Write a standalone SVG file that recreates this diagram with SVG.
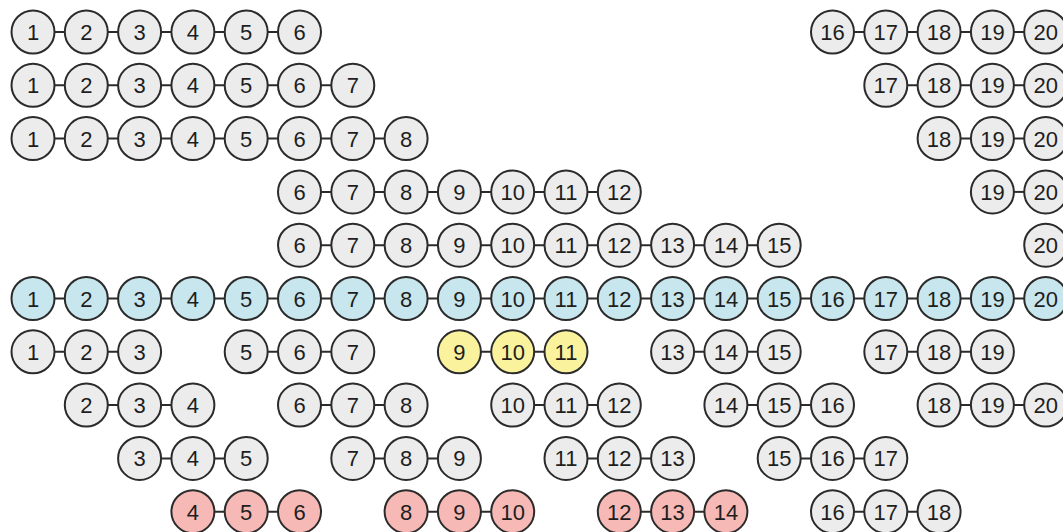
<svg xmlns="http://www.w3.org/2000/svg" width="1063" height="532" viewBox="0 0 1063 532">
<style>
circle{stroke:#2b2b2b;stroke-width:2}
text{font-family:"Liberation Sans",Arial,sans-serif;font-size:22px;fill:#1e1e1e;text-anchor:middle}
.g circle{fill:#ececec}
.b circle{fill:#c8e6ed}
.y circle{fill:#fbf29e}
.r circle{fill:#f6b9b6}
#conn path{stroke:#2b2b2b;stroke-width:2;fill:none}
</style>
<rect width="1063" height="532" fill="#fff"/>
<g id="conn">
<path d="M54.5 32h10.3M107.8 32h10.3M161.1 32h10.3M214.4 32h10.3M267.7 32h10.3"/>
<path d="M854 32h10.3M907.3 32h10.3M960.6 32h10.3M1013.9 32h10.3"/>
<path d="M54.5 85.3h10.3M107.8 85.3h10.3M161.1 85.3h10.3M214.4 85.3h10.3M267.7 85.3h10.3M321 85.3h10.3"/>
<path d="M907.3 85.3h10.3M960.6 85.3h10.3M1013.9 85.3h10.3"/>
<path d="M54.5 138.6h10.3M107.8 138.6h10.3M161.1 138.6h10.3M214.4 138.6h10.3M267.7 138.6h10.3M321 138.6h10.3M374.3 138.6h10.3"/>
<path d="M960.6 138.6h10.3M1013.9 138.6h10.3"/>
<path d="M321 191.9h10.3M374.3 191.9h10.3M427.6 191.9h10.3M480.9 191.9h10.3M534.2 191.9h10.3M587.5 191.9h10.3"/>
<path d="M1013.9 191.9h10.3"/>
<path d="M321 245.2h10.3M374.3 245.2h10.3M427.6 245.2h10.3M480.9 245.2h10.3M534.2 245.2h10.3M587.5 245.2h10.3M640.8 245.2h10.3M694.1 245.2h10.3M747.4 245.2h10.3"/>
<path d="M54.5 298.5h10.3M107.8 298.5h10.3M161.1 298.5h10.3M214.4 298.5h10.3M267.7 298.5h10.3M321 298.5h10.3M374.3 298.5h10.3M427.6 298.5h10.3M480.9 298.5h10.3M534.2 298.5h10.3M587.5 298.5h10.3M640.8 298.5h10.3M694.1 298.5h10.3M747.4 298.5h10.3M800.7 298.5h10.3M854 298.5h10.3M907.3 298.5h10.3M960.6 298.5h10.3M1013.9 298.5h10.3"/>
<path d="M54.5 351.8h10.3M107.8 351.8h10.3M267.7 351.8h10.3M321 351.8h10.3M480.9 351.8h10.3M534.2 351.8h10.3M694.1 351.8h10.3M747.4 351.8h10.3M907.3 351.8h10.3M960.6 351.8h10.3"/>
<path d="M107.8 405.1h10.3M161.1 405.1h10.3M321 405.1h10.3M374.3 405.1h10.3M534.2 405.1h10.3M587.5 405.1h10.3M747.4 405.1h10.3M800.7 405.1h10.3M960.6 405.1h10.3M1013.9 405.1h10.3"/>
<path d="M161.1 458.4h10.3M214.4 458.4h10.3M374.3 458.4h10.3M427.6 458.4h10.3M587.5 458.4h10.3M640.8 458.4h10.3M800.7 458.4h10.3M854 458.4h10.3"/>
<path d="M214.4 511.7h10.3M267.7 511.7h10.3M427.6 511.7h10.3M480.9 511.7h10.3M640.8 511.7h10.3M694.1 511.7h10.3M854 511.7h10.3M907.3 511.7h10.3"/>
</g>
<g id="row1">
<g id="r1n1" class="g" transform="translate(33 32)"><circle r="21.5"/><text y="8">1</text></g>
<g id="r1n2" class="g" transform="translate(86.3 32)"><circle r="21.5"/><text y="8">2</text></g>
<g id="r1n3" class="g" transform="translate(139.6 32)"><circle r="21.5"/><text y="8">3</text></g>
<g id="r1n4" class="g" transform="translate(192.9 32)"><circle r="21.5"/><text y="8">4</text></g>
<g id="r1n5" class="g" transform="translate(246.2 32)"><circle r="21.5"/><text y="8">5</text></g>
<g id="r1n6" class="g" transform="translate(299.5 32)"><circle r="21.5"/><text y="8">6</text></g>
<g id="r1n16" class="g" transform="translate(832.5 32)"><circle r="21.5"/><text y="8">16</text></g>
<g id="r1n17" class="g" transform="translate(885.8 32)"><circle r="21.5"/><text y="8">17</text></g>
<g id="r1n18" class="g" transform="translate(939.1 32)"><circle r="21.5"/><text y="8">18</text></g>
<g id="r1n19" class="g" transform="translate(992.4 32)"><circle r="21.5"/><text y="8">19</text></g>
<g id="r1n20" class="g" transform="translate(1045.7 32)"><circle r="21.5"/><text y="8">20</text></g>
</g>
<g id="row2">
<g id="r2n1" class="g" transform="translate(33 85.3)"><circle r="21.5"/><text y="8">1</text></g>
<g id="r2n2" class="g" transform="translate(86.3 85.3)"><circle r="21.5"/><text y="8">2</text></g>
<g id="r2n3" class="g" transform="translate(139.6 85.3)"><circle r="21.5"/><text y="8">3</text></g>
<g id="r2n4" class="g" transform="translate(192.9 85.3)"><circle r="21.5"/><text y="8">4</text></g>
<g id="r2n5" class="g" transform="translate(246.2 85.3)"><circle r="21.5"/><text y="8">5</text></g>
<g id="r2n6" class="g" transform="translate(299.5 85.3)"><circle r="21.5"/><text y="8">6</text></g>
<g id="r2n7" class="g" transform="translate(352.8 85.3)"><circle r="21.5"/><text y="8">7</text></g>
<g id="r2n17" class="g" transform="translate(885.8 85.3)"><circle r="21.5"/><text y="8">17</text></g>
<g id="r2n18" class="g" transform="translate(939.1 85.3)"><circle r="21.5"/><text y="8">18</text></g>
<g id="r2n19" class="g" transform="translate(992.4 85.3)"><circle r="21.5"/><text y="8">19</text></g>
<g id="r2n20" class="g" transform="translate(1045.7 85.3)"><circle r="21.5"/><text y="8">20</text></g>
</g>
<g id="row3">
<g id="r3n1" class="g" transform="translate(33 138.6)"><circle r="21.5"/><text y="8">1</text></g>
<g id="r3n2" class="g" transform="translate(86.3 138.6)"><circle r="21.5"/><text y="8">2</text></g>
<g id="r3n3" class="g" transform="translate(139.6 138.6)"><circle r="21.5"/><text y="8">3</text></g>
<g id="r3n4" class="g" transform="translate(192.9 138.6)"><circle r="21.5"/><text y="8">4</text></g>
<g id="r3n5" class="g" transform="translate(246.2 138.6)"><circle r="21.5"/><text y="8">5</text></g>
<g id="r3n6" class="g" transform="translate(299.5 138.6)"><circle r="21.5"/><text y="8">6</text></g>
<g id="r3n7" class="g" transform="translate(352.8 138.6)"><circle r="21.5"/><text y="8">7</text></g>
<g id="r3n8" class="g" transform="translate(406.1 138.6)"><circle r="21.5"/><text y="8">8</text></g>
<g id="r3n18" class="g" transform="translate(939.1 138.6)"><circle r="21.5"/><text y="8">18</text></g>
<g id="r3n19" class="g" transform="translate(992.4 138.6)"><circle r="21.5"/><text y="8">19</text></g>
<g id="r3n20" class="g" transform="translate(1045.7 138.6)"><circle r="21.5"/><text y="8">20</text></g>
</g>
<g id="row4">
<g id="r4n6" class="g" transform="translate(299.5 191.9)"><circle r="21.5"/><text y="8">6</text></g>
<g id="r4n7" class="g" transform="translate(352.8 191.9)"><circle r="21.5"/><text y="8">7</text></g>
<g id="r4n8" class="g" transform="translate(406.1 191.9)"><circle r="21.5"/><text y="8">8</text></g>
<g id="r4n9" class="g" transform="translate(459.4 191.9)"><circle r="21.5"/><text y="8">9</text></g>
<g id="r4n10" class="g" transform="translate(512.7 191.9)"><circle r="21.5"/><text y="8">10</text></g>
<g id="r4n11" class="g" transform="translate(566 191.9)"><circle r="21.5"/><text y="8">11</text></g>
<g id="r4n12" class="g" transform="translate(619.3 191.9)"><circle r="21.5"/><text y="8">12</text></g>
<g id="r4n19" class="g" transform="translate(992.4 191.9)"><circle r="21.5"/><text y="8">19</text></g>
<g id="r4n20" class="g" transform="translate(1045.7 191.9)"><circle r="21.5"/><text y="8">20</text></g>
</g>
<g id="row5">
<g id="r5n6" class="g" transform="translate(299.5 245.2)"><circle r="21.5"/><text y="8">6</text></g>
<g id="r5n7" class="g" transform="translate(352.8 245.2)"><circle r="21.5"/><text y="8">7</text></g>
<g id="r5n8" class="g" transform="translate(406.1 245.2)"><circle r="21.5"/><text y="8">8</text></g>
<g id="r5n9" class="g" transform="translate(459.4 245.2)"><circle r="21.5"/><text y="8">9</text></g>
<g id="r5n10" class="g" transform="translate(512.7 245.2)"><circle r="21.5"/><text y="8">10</text></g>
<g id="r5n11" class="g" transform="translate(566 245.2)"><circle r="21.5"/><text y="8">11</text></g>
<g id="r5n12" class="g" transform="translate(619.3 245.2)"><circle r="21.5"/><text y="8">12</text></g>
<g id="r5n13" class="g" transform="translate(672.6 245.2)"><circle r="21.5"/><text y="8">13</text></g>
<g id="r5n14" class="g" transform="translate(725.9 245.2)"><circle r="21.5"/><text y="8">14</text></g>
<g id="r5n15" class="g" transform="translate(779.2 245.2)"><circle r="21.5"/><text y="8">15</text></g>
<g id="r5n20" class="g" transform="translate(1045.7 245.2)"><circle r="21.5"/><text y="8">20</text></g>
</g>
<g id="row6">
<g id="r6n1" class="b" transform="translate(33 298.5)"><circle r="21.5"/><text y="8">1</text></g>
<g id="r6n2" class="b" transform="translate(86.3 298.5)"><circle r="21.5"/><text y="8">2</text></g>
<g id="r6n3" class="b" transform="translate(139.6 298.5)"><circle r="21.5"/><text y="8">3</text></g>
<g id="r6n4" class="b" transform="translate(192.9 298.5)"><circle r="21.5"/><text y="8">4</text></g>
<g id="r6n5" class="b" transform="translate(246.2 298.5)"><circle r="21.5"/><text y="8">5</text></g>
<g id="r6n6" class="b" transform="translate(299.5 298.5)"><circle r="21.5"/><text y="8">6</text></g>
<g id="r6n7" class="b" transform="translate(352.8 298.5)"><circle r="21.5"/><text y="8">7</text></g>
<g id="r6n8" class="b" transform="translate(406.1 298.5)"><circle r="21.5"/><text y="8">8</text></g>
<g id="r6n9" class="b" transform="translate(459.4 298.5)"><circle r="21.5"/><text y="8">9</text></g>
<g id="r6n10" class="b" transform="translate(512.7 298.5)"><circle r="21.5"/><text y="8">10</text></g>
<g id="r6n11" class="b" transform="translate(566 298.5)"><circle r="21.5"/><text y="8">11</text></g>
<g id="r6n12" class="b" transform="translate(619.3 298.5)"><circle r="21.5"/><text y="8">12</text></g>
<g id="r6n13" class="b" transform="translate(672.6 298.5)"><circle r="21.5"/><text y="8">13</text></g>
<g id="r6n14" class="b" transform="translate(725.9 298.5)"><circle r="21.5"/><text y="8">14</text></g>
<g id="r6n15" class="b" transform="translate(779.2 298.5)"><circle r="21.5"/><text y="8">15</text></g>
<g id="r6n16" class="b" transform="translate(832.5 298.5)"><circle r="21.5"/><text y="8">16</text></g>
<g id="r6n17" class="b" transform="translate(885.8 298.5)"><circle r="21.5"/><text y="8">17</text></g>
<g id="r6n18" class="b" transform="translate(939.1 298.5)"><circle r="21.5"/><text y="8">18</text></g>
<g id="r6n19" class="b" transform="translate(992.4 298.5)"><circle r="21.5"/><text y="8">19</text></g>
<g id="r6n20" class="b" transform="translate(1045.7 298.5)"><circle r="21.5"/><text y="8">20</text></g>
</g>
<g id="row7">
<g id="r7n1" class="g" transform="translate(33 351.8)"><circle r="21.5"/><text y="8">1</text></g>
<g id="r7n2" class="g" transform="translate(86.3 351.8)"><circle r="21.5"/><text y="8">2</text></g>
<g id="r7n3" class="g" transform="translate(139.6 351.8)"><circle r="21.5"/><text y="8">3</text></g>
<g id="r7n5" class="g" transform="translate(246.2 351.8)"><circle r="21.5"/><text y="8">5</text></g>
<g id="r7n6" class="g" transform="translate(299.5 351.8)"><circle r="21.5"/><text y="8">6</text></g>
<g id="r7n7" class="g" transform="translate(352.8 351.8)"><circle r="21.5"/><text y="8">7</text></g>
<g id="r7n9" class="y" transform="translate(459.4 351.8)"><circle r="21.5"/><text y="8">9</text></g>
<g id="r7n10" class="y" transform="translate(512.7 351.8)"><circle r="21.5"/><text y="8">10</text></g>
<g id="r7n11" class="y" transform="translate(566 351.8)"><circle r="21.5"/><text y="8">11</text></g>
<g id="r7n13" class="g" transform="translate(672.6 351.8)"><circle r="21.5"/><text y="8">13</text></g>
<g id="r7n14" class="g" transform="translate(725.9 351.8)"><circle r="21.5"/><text y="8">14</text></g>
<g id="r7n15" class="g" transform="translate(779.2 351.8)"><circle r="21.5"/><text y="8">15</text></g>
<g id="r7n17" class="g" transform="translate(885.8 351.8)"><circle r="21.5"/><text y="8">17</text></g>
<g id="r7n18" class="g" transform="translate(939.1 351.8)"><circle r="21.5"/><text y="8">18</text></g>
<g id="r7n19" class="g" transform="translate(992.4 351.8)"><circle r="21.5"/><text y="8">19</text></g>
</g>
<g id="row8">
<g id="r8n2" class="g" transform="translate(86.3 405.1)"><circle r="21.5"/><text y="8">2</text></g>
<g id="r8n3" class="g" transform="translate(139.6 405.1)"><circle r="21.5"/><text y="8">3</text></g>
<g id="r8n4" class="g" transform="translate(192.9 405.1)"><circle r="21.5"/><text y="8">4</text></g>
<g id="r8n6" class="g" transform="translate(299.5 405.1)"><circle r="21.5"/><text y="8">6</text></g>
<g id="r8n7" class="g" transform="translate(352.8 405.1)"><circle r="21.5"/><text y="8">7</text></g>
<g id="r8n8" class="g" transform="translate(406.1 405.1)"><circle r="21.5"/><text y="8">8</text></g>
<g id="r8n10" class="g" transform="translate(512.7 405.1)"><circle r="21.5"/><text y="8">10</text></g>
<g id="r8n11" class="g" transform="translate(566 405.1)"><circle r="21.5"/><text y="8">11</text></g>
<g id="r8n12" class="g" transform="translate(619.3 405.1)"><circle r="21.5"/><text y="8">12</text></g>
<g id="r8n14" class="g" transform="translate(725.9 405.1)"><circle r="21.5"/><text y="8">14</text></g>
<g id="r8n15" class="g" transform="translate(779.2 405.1)"><circle r="21.5"/><text y="8">15</text></g>
<g id="r8n16" class="g" transform="translate(832.5 405.1)"><circle r="21.5"/><text y="8">16</text></g>
<g id="r8n18" class="g" transform="translate(939.1 405.1)"><circle r="21.5"/><text y="8">18</text></g>
<g id="r8n19" class="g" transform="translate(992.4 405.1)"><circle r="21.5"/><text y="8">19</text></g>
<g id="r8n20" class="g" transform="translate(1045.7 405.1)"><circle r="21.5"/><text y="8">20</text></g>
</g>
<g id="row9">
<g id="r9n3" class="g" transform="translate(139.6 458.4)"><circle r="21.5"/><text y="8">3</text></g>
<g id="r9n4" class="g" transform="translate(192.9 458.4)"><circle r="21.5"/><text y="8">4</text></g>
<g id="r9n5" class="g" transform="translate(246.2 458.4)"><circle r="21.5"/><text y="8">5</text></g>
<g id="r9n7" class="g" transform="translate(352.8 458.4)"><circle r="21.5"/><text y="8">7</text></g>
<g id="r9n8" class="g" transform="translate(406.1 458.4)"><circle r="21.5"/><text y="8">8</text></g>
<g id="r9n9" class="g" transform="translate(459.4 458.4)"><circle r="21.5"/><text y="8">9</text></g>
<g id="r9n11" class="g" transform="translate(566 458.4)"><circle r="21.5"/><text y="8">11</text></g>
<g id="r9n12" class="g" transform="translate(619.3 458.4)"><circle r="21.5"/><text y="8">12</text></g>
<g id="r9n13" class="g" transform="translate(672.6 458.4)"><circle r="21.5"/><text y="8">13</text></g>
<g id="r9n15" class="g" transform="translate(779.2 458.4)"><circle r="21.5"/><text y="8">15</text></g>
<g id="r9n16" class="g" transform="translate(832.5 458.4)"><circle r="21.5"/><text y="8">16</text></g>
<g id="r9n17" class="g" transform="translate(885.8 458.4)"><circle r="21.5"/><text y="8">17</text></g>
</g>
<g id="row10">
<g id="r10n4" class="r" transform="translate(192.9 511.7)"><circle r="21.5"/><text y="8">4</text></g>
<g id="r10n5" class="r" transform="translate(246.2 511.7)"><circle r="21.5"/><text y="8">5</text></g>
<g id="r10n6" class="r" transform="translate(299.5 511.7)"><circle r="21.5"/><text y="8">6</text></g>
<g id="r10n8" class="r" transform="translate(406.1 511.7)"><circle r="21.5"/><text y="8">8</text></g>
<g id="r10n9" class="r" transform="translate(459.4 511.7)"><circle r="21.5"/><text y="8">9</text></g>
<g id="r10n10" class="r" transform="translate(512.7 511.7)"><circle r="21.5"/><text y="8">10</text></g>
<g id="r10n12" class="r" transform="translate(619.3 511.7)"><circle r="21.5"/><text y="8">12</text></g>
<g id="r10n13" class="r" transform="translate(672.6 511.7)"><circle r="21.5"/><text y="8">13</text></g>
<g id="r10n14" class="r" transform="translate(725.9 511.7)"><circle r="21.5"/><text y="8">14</text></g>
<g id="r10n16" class="g" transform="translate(832.5 511.7)"><circle r="21.5"/><text y="8">16</text></g>
<g id="r10n17" class="g" transform="translate(885.8 511.7)"><circle r="21.5"/><text y="8">17</text></g>
<g id="r10n18" class="g" transform="translate(939.1 511.7)"><circle r="21.5"/><text y="8">18</text></g>
</g>
</svg>
